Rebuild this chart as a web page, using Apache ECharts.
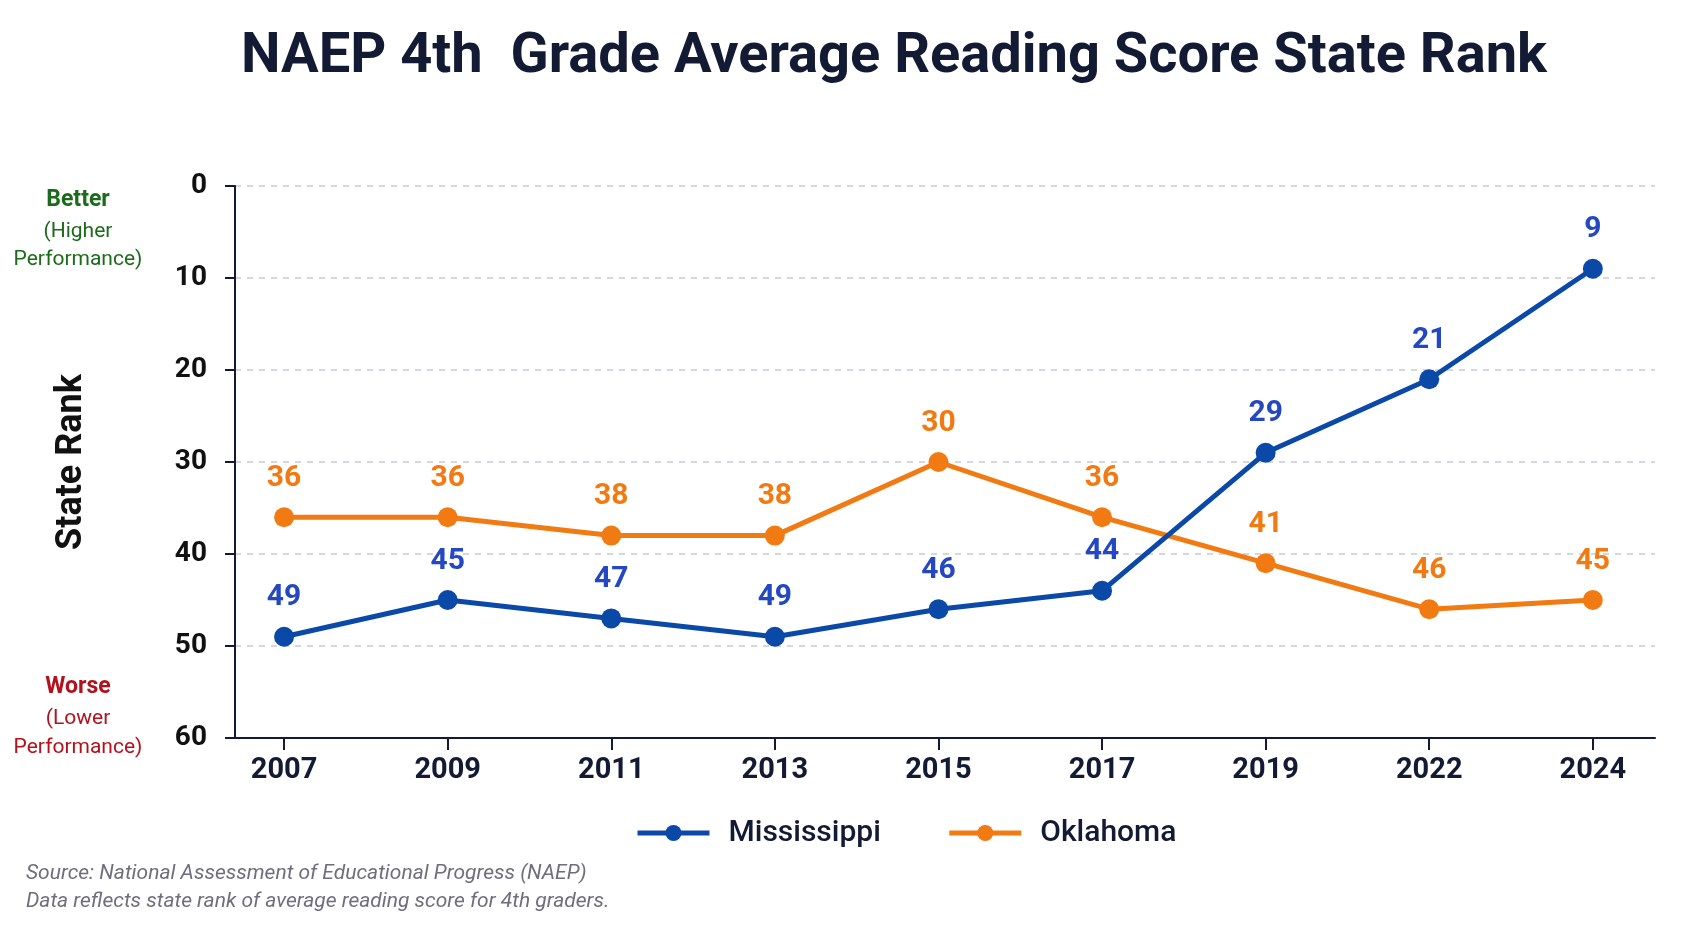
<!doctype html>
<html>
<head>
    <meta charset="utf-8">
    <title>NAEP 4th Grade Reading Rank</title>
    <script src="https://cdn.jsdelivr.net/npm/echarts@6/dist/echarts.min.js"></script>
    <style>
        html, body { margin: 0; padding: 0; background: #fff; }
        #chart { width: 1693px; height: 929px; }
    </style>
</head>
<body>
<div id="chart"></div>
<script>
    // data
    var years = ['2007', '2009', '2011', '2013', '2015', '2017', '2019', '2022', '2024'];
    var mississippi = [49, 45, 47, 49, 46, 44, 29, 21, 9];
    var oklahoma = [36, 36, 38, 38, 30, 36, 41, 46, 45];
    var rankTicks = [0, 10, 20, 30, 40, 50, 60];

    var blue = '#0b49a8', blueLabel = '#2447c2';
    var orange = '#f27a12';
    var navy = '#131a33';
    var font = 'Roboto';

    function toPoints(arr) {
        return arr.map(function (v, i) { return [i, v]; });
    }

    function lineSeries(name, values, color, labelColor, z) {
        return {
            name: name,
            type: 'line',
            z: z,
            data: toPoints(values),
            symbol: 'circle',
            symbolSize: 20,
            lineStyle: { color: color, width: 5 },
            itemStyle: { color: color },
            label: {
                show: true,
                position: 'top',
                distance: 14,
                color: labelColor,
                fontFamily: font,
                fontWeight: 'bold',
                fontSize: 30,
                formatter: function (p) { return p.value[1]; }
            }
        };
    }

    var myChart = echarts.init(document.getElementById('chart'));
    var option = {
        backgroundColor: '#ffffff',
        animation: false,
        title: {
            text: 'NAEP 4th  Grade Average Reading Score State Rank',
            left: 889,
            textAlign: 'center',
            top: 25,
            textStyle: { fontFamily: font, fontWeight: 'bold', fontSize: 56, color: navy }
        },
        legend: {
            data: ['Mississippi', 'Oklahoma'],
            left: 630,
            top: 813,
            itemWidth: 72,
            itemHeight: 20,
            itemGap: 66,
            lineStyle: { width: 5 },
            textStyle: { fontFamily: font, fontSize: 30, fontWeight: 500, color: navy, padding: [0, 0, 0, 14] }
        },
        grid: { left: 235, right: 38, top: 186, bottom: 191, containLabel: false },
        xAxis: {
            type: 'value',
            min: -0.3,
            max: 8.38,
            splitLine: { show: false },
            axisLine: { onZero: false, lineStyle: { color: navy, width: 2 } },
            axisTick: { customValues: [0, 1, 2, 3, 4, 5, 6, 7, 8], length: 12, lineStyle: { color: navy, width: 2 } },
            axisLabel: {
                customValues: [0, 1, 2, 3, 4, 5, 6, 7, 8],
                formatter: function (v) { return years[v]; },
                margin: 18,
                color: navy,
                fontFamily: font,
                fontWeight: 'bold',
                fontSize: 29
            }
        },
        yAxis: {
            type: 'value',
            inverse: true,
            min: rankTicks[0],
            max: rankTicks[rankTicks.length - 1],
            interval: 10,
            name: 'State Rank',
            nameLocation: 'middle',
            nameGap: 145,
            nameRotate: 90,
            nameTextStyle: { fontFamily: font, fontWeight: 'bold', fontSize: 36, color: '#111111' },
            axisLine: { show: true, onZero: false, lineStyle: { color: navy, width: 2 } },
            axisTick: { show: true, length: 10, lineStyle: { color: navy, width: 2 } },
            axisLabel: { margin: 28, color: '#111111', fontFamily: font, fontWeight: 'bold', fontSize: 28 },
            splitLine: { show: true, lineStyle: { color: '#c9c9d1', type: [6, 6], width: 1.5 } }
        },
        graphic: [
            { type: 'text', x: 78, y: 200, style: { text: 'Better', align: 'center', verticalAlign: 'middle', fill: '#1b6b1b', font: 'bold 23px Roboto' } },
            { type: 'text', x: 78, y: 232, style: { text: '(Higher', align: 'center', verticalAlign: 'middle', fill: '#1b6b1b', font: '21px Roboto' } },
            { type: 'text', x: 78, y: 260, style: { text: 'Performance)', align: 'center', verticalAlign: 'middle', fill: '#1b6b1b', font: '21px Roboto' } },
            { type: 'text', x: 78, y: 687, style: { text: 'Worse', align: 'center', verticalAlign: 'middle', fill: '#b3111c', font: 'bold 23px Roboto' } },
            { type: 'text', x: 78, y: 719, style: { text: '(Lower', align: 'center', verticalAlign: 'middle', fill: '#b3111c', font: '21px Roboto' } },
            { type: 'text', x: 78, y: 748, style: { text: 'Performance)', align: 'center', verticalAlign: 'middle', fill: '#b3111c', font: '21px Roboto' } },
            { type: 'text', x: 26, y: 874, style: { text: 'Source: National Assessment of Educational Progress (NAEP)', verticalAlign: 'middle', fill: '#6e6e7c', font: 'italic 21px Roboto' } },
            { type: 'text', x: 26, y: 902, style: { text: 'Data reflects state rank of average reading score for 4th graders.', verticalAlign: 'middle', fill: '#6e6e7c', font: 'italic 21px Roboto' } }
        ],
        series: [
            lineSeries('Oklahoma', oklahoma, orange, orange, 2),
            lineSeries('Mississippi', mississippi, blue, blueLabel, 3)
        ]
    };
    myChart.setOption(option);
</script>
</body>
</html>
